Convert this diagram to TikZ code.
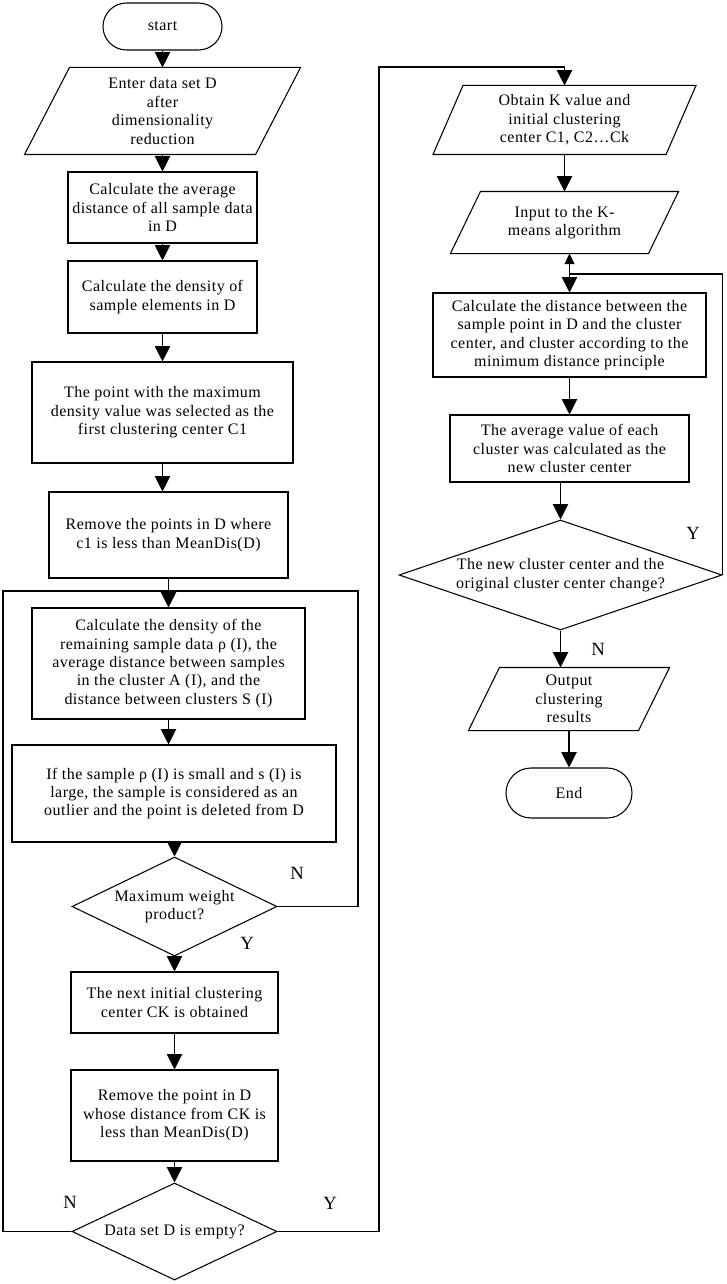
\documentclass[tikz,border=0pt]{standalone}
\usepackage{fontspec}
\setmainfont{Liberation Serif}[LetterSpace=3]
\usetikzlibrary{arrows.meta,shapes.geometric,shapes.misc}
\newlength\pxu \setlength\pxu{0.75pt}
\newcommand\paraoutline[2]{\draw ([xshift=#2\pxu]#1.north west) -- ([xshift=#2\pxu]#1.north east) -- ([xshift=-#2\pxu]#1.south east) -- ([xshift=-#2\pxu]#1.south west) -- cycle;}
\begin{document}
\begin{tikzpicture}[x=0.75pt,y=-0.75pt, line width=0.8pt,
 every node/.style={font=\fontsize{12}{13.8}\selectfont, align=center, inner sep=0pt},
 box/.style={draw, rectangle},
 term/.style={draw, rounded rectangle},
 para/.style={rectangle},
 dia/.style={draw, diamond},
 lab/.style={font=\fontsize{14}{14}\selectfont},
 arr/.style={-{Triangle[length=11.5pt,width=11.5pt]}},
 sarr/.style={-{Triangle[length=8pt,width=7.5pt]}}
]
\useasboundingbox (0,0) rectangle (726,1284);

% left column
\node[term, minimum width=119\pxu, minimum height=47\pxu] (start) at (162.5,26.5) {start};
\node[para, minimum width=230\pxu, minimum height=86\pxu] (enter) at (162.5,111) {Enter data set D\\after\\dimensionality\\reduction};
\paraoutline{enter}{22.5}
\node[box, minimum width=189\pxu, minimum height=71\pxu] (avg) at (162.5,207.5) {Calculate the average\\distance of all sample data\\in D};
\node[box, minimum width=189\pxu, minimum height=72\pxu] (dens) at (162.5,297) {Calculate the density of\\sample elements in D};
\node[box, minimum width=261\pxu, minimum height=101\pxu] (point) at (162.5,412.5) {The point with the maximum\\density value was selected as the\\first clustering center C1};
\node[box, minimum width=239\pxu, minimum height=86\pxu] (remove1) at (168.5,535) {Remove the points in D where\\c1 is less than MeanDis(D)};
\coordinate (join) at (168.5,591);
\coordinate (rtop) at (358,591);
\coordinate (ltop) at (3,591);
\node[box, minimum width=273\pxu, minimum height=111\pxu] (calcrem) at (168.5,663.5) {Calculate the density of the\\remaining sample data ρ (I), the\\average distance between samples\\in the cluster A (I), and the\\distance between clusters S (I)};
\node[box, minimum width=324\pxu, minimum height=97\pxu] (ifsample) at (174,793.5) {If the sample ρ (I) is small and s (I) is\\large, the sample is considered as an\\outlier and the point is deleted from D};
\node[dia, minimum width=205\pxu, minimum height=99\pxu, label={center:{Maximum weight\\product?}}] (maxw) at (174.5,906.5) {};
\node[box, minimum width=207\pxu, minimum height=61\pxu] (next) at (174.5,1002.5) {The next initial clustering\\center CK is obtained};
\node[box, minimum width=207\pxu, minimum height=91\pxu] (remove2) at (174.5,1115.5) {Remove the point in D\\whose distance from CK is\\less than MeanDis(D)};
\node[dia, minimum width=205\pxu, minimum height=97\pxu, label={center:{Data set D is empty?}}] (empty) at (174.5,1231.5) {};
\coordinate (rx) at (379,67);

% right column
\node[para, minimum width=232\pxu, minimum height=68\pxu] (obtain) at (564.5,120) {Obtain K value and\\initial clustering\\center C1, C2…Ck};
\paraoutline{obtain}{15}
\node[para, minimum width=197\pxu, minimum height=61\pxu] (input) at (564.5,222.5) {Input to the K-\\means algorithm};
\paraoutline{input}{15}
\coordinate (kj) at (569.5,274);
\node[box, minimum width=273\pxu, minimum height=84\pxu] (calcdist) at (569.5,335) {Calculate the distance between the\\sample point in D and the cluster\\center, and cluster according to the\\minimum distance principle};
\node[box, minimum width=239\pxu, minimum height=67\pxu] (avgval) at (569.5,448.5) {The average value of each\\cluster was calculated as the\\new cluster center};
\node[dia, minimum width=323\pxu, minimum height=110\pxu, label={center:{The new cluster center and the\\original cluster center change?}}] (change) at (560.5,575) {};
\node[para, minimum width=169\pxu, minimum height=62\pxu] (output) at (569,699) {Output\\clustering\\results};
\paraoutline{output}{15.5}
\node[term, minimum width=126\pxu, minimum height=50\pxu] (end) at (569,793) {End};

% labels
\node[lab] (n1) at (297,873) {N};
\node[lab] (y1) at (247,943) {Y};
\node[lab] (n2) at (70,1202) {N};
\node[lab] (y2) at (330,1203) {Y};
\node[lab] (y3) at (693,533) {Y};
\node[lab] (n3) at (598,649) {N};

% connectors left
\draw[arr] (start.south) -- (enter.north);
\draw[arr] (enter.south) -- (avg.north);
\draw[arr] (avg.south) -- (dens.north);
\draw[arr] (dens.south) -- (point.north);
\draw[arr] (point.south) -- (point.south |- remove1.north);
\draw (remove1.south) -- (join);
\draw[arr] (join) -- (calcrem.north);
\draw[arr] (calcrem.south) -- (calcrem.south |- ifsample.north);
\draw[arr] (maxw.north |- ifsample.south) -- (maxw.north);
\draw[arr] (maxw.south) -- (next.north);
\draw[arr] (next.south) -- (remove2.north);
\draw[arr] (remove2.south) -- (empty.north);
\draw (maxw.east) -| (rtop) -- (join);
\draw (empty.west) -| (ltop) -- (join);
\draw[arr] (empty.east) -| (rx) -| (obtain.north);

% connectors right
\draw[arr] (obtain.south) -- (input.north);
\draw[sarr] (kj) -- (kj |- input.south);
\draw[arr] (kj) -- (calcdist.north);
\draw (change.east) |- (kj);
\draw[arr] (calcdist.south) -- (avgval.north);
\draw[arr] (change.north |- avgval.south) -- (change.north);
\draw[arr] (change.south) -- (change.south |- output.north);
\draw[arr] (output.south) -- (end.north);
\end{tikzpicture}
\end{document}
